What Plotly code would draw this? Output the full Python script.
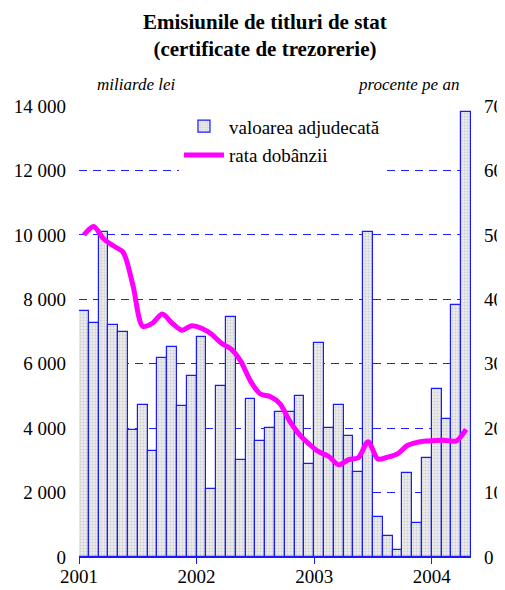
import plotly.graph_objects as go

# Monthly data, Jan 2001 - Apr 2004
months = list(range(40))
valoarea = [7640, 7260, 10100, 7190, 6980, 3930, 4720, 3290, 6180, 6510, 4690, 5620,
            6820, 2110, 5310, 7440, 3010, 4900, 3600, 3990, 4490, 4490, 5000, 2890,
            6630, 3990, 4720, 3760, 2630, 10080, 1230, 650, 220, 2600, 1050, 3060,
            5200, 4270, 7820, 13800]
rata = [50.0, 51.3, 49.4, 48.3, 47.3, 42.2, 35.8, 36.3, 37.7, 36.3, 35.2, 35.9,
        35.5, 34.6, 33.2, 32.3, 30.4, 27.3, 25.3, 24.9, 23.8, 21.1, 19.0, 17.5,
        16.3, 15.6, 14.3, 15.1, 15.4, 17.9, 15.2, 15.5, 16.0, 17.3, 17.8, 18.0,
        18.1, 18.1, 18.0, 19.8]
year_labels = ["2001", "2002", "2003", "2004"]
left_ticks = [0, 2000, 4000, 6000, 8000, 10000, 12000, 14000]
left_ticktext = ["0", "2 000", "4 000", "6 000", "8 000", "10 000", "12 000", "14 000"]
right_ticks = [0, 10, 20, 30, 40, 50, 60, 70]

xc = [m + 0.5 for m in months]
FONT = '"Liberation Serif", "Times New Roman", Times, serif'
PH = 451.0  # plot height in px (for paper coords of annotations)

fig = go.Figure()
fig.add_trace(go.Bar(
    x=xc, y=valoarea, name="valoarea adjudecată", width=1.0, legendgroup="a",
    marker=dict(color="#e4e4e4", line=dict(color="#1a1aff", width=1.2),
                pattern=dict(shape=".", fgcolor="#b0b0b0", bgcolor="#ececec",
                             size=3, solidity=0.35)),
))
fig.add_trace(go.Scatter(
    x=xc, y=rata, name="rata dobânzii", yaxis="y2", mode="lines", legendgroup="b",
    line=dict(color="#ff00ff", width=5, shape="spline", smoothing=0.8),
))

fig.update_layout(
    width=505, height=590,
    margin=dict(l=71, r=42, t=98, b=41, autoexpand=False),
    paper_bgcolor="white", plot_bgcolor="white",
    font=dict(family=FONT, size=19, color="black"),
    bargap=0,
    showlegend=True,
    legend=dict(x=0.255, y=0.997, xanchor="left", yanchor="top",
                bgcolor="white", font=dict(family=FONT, size=19),
                tracegroupgap=1, itemwidth=40),
    xaxis=dict(range=[0, 40], tickvals=[0, 12, 24, 36], ticktext=year_labels,
               showgrid=False, zeroline=False, showline=True, linecolor="#1a1aff",
               linewidth=1, ticks="outside", ticklen=6, tickcolor="#1a1aff",
               tickwidth=1, ticklabelstandoff=-4,
               tickfont=dict(size=19, family=FONT), automargin=False),
    yaxis=dict(range=[0, 14000], tickvals=left_ticks, ticktext=left_ticktext,
               showgrid=True, gridcolor="#2020ff", griddash="8px,6px", gridwidth=1,
               zeroline=False, showline=False, ticks="", ticklabelstandoff=12,
               tickfont=dict(size=19, family=FONT), automargin=False),
    yaxis2=dict(range=[0, 70], tickvals=right_ticks, overlaying="y", side="right",
                showgrid=False, zeroline=False, showline=False, ticks="",
                ticklabelstandoff=12, tickfont=dict(size=19, family=FONT),
                automargin=False),
    annotations=[
        dict(text="<b>Emisiunile de titluri de stat<br>(certificate de trezorerie)</b>",
             xref="paper", yref="paper", x=0.474, y=1 + 98 / PH,
             xanchor="center", yanchor="top", showarrow=False,
             font=dict(family=FONT, size=21, color="black")),
        dict(text="<i>miliarde lei</i>", xref="paper", yref="paper", x=0.041, y=1 + 21 / PH,
             xanchor="left", yanchor="middle", showarrow=False,
             font=dict(family=FONT, size=17)),
        dict(text="<i>procente pe an</i>", xref="paper", yref="paper", x=0.974, y=1 + 21 / PH,
             xanchor="right", yanchor="middle", showarrow=False,
             font=dict(family=FONT, size=17)),
    ],
)

fig.write_html("out.html")
